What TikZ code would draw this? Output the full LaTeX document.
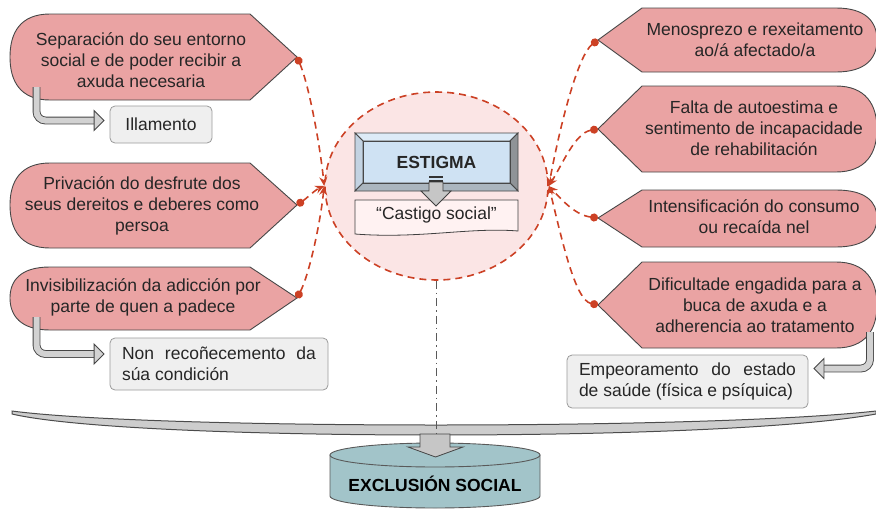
\documentclass[tikz,border=0pt]{standalone}
\usepackage{fontspec}
\setmainfont{Liberation Sans}
\usetikzlibrary{arrows.meta, shapes.geometric}

\definecolor{badgepink}{HTML}{EAA3A3}
\definecolor{edgegrey}{HTML}{474747}
\definecolor{linkred}{HTML}{CC4125}
\definecolor{haze}{HTML}{FBE5E5}
\definecolor{boxgrey}{HTML}{EFEFEF}
\definecolor{boxline}{HTML}{9A9A9A}
\definecolor{stigblue}{HTML}{CFE2F3}
\definecolor{cylteal}{HTML}{A2C4C9}
\definecolor{barfill}{HTML}{CDCDCD}

\begin{document}
\begin{tikzpicture}[x=1pt, y=-1pt, font=\fontsize{17.5}{21}\selectfont,
    badge/.style = {draw=edgegrey, fill=badgepink, line width=0.9pt},
    badgetext/.style = {align=center, inner sep=0pt, text=black!85},
    greybox/.style = {draw=boxline, fill=boxgrey, rounded corners=5pt, line width=0.8pt, text=black!85},
    link/.style = {draw=linkred, line width=1.6pt, dash pattern=on 7pt off 5pt,
                   {Circle[length=8pt]}-{Stealth[length=9pt, width=8pt]}},
    fatarrow/.style = {draw=gray!55!black, double=gray!35, double distance=6pt, line width=0.9pt,
                       rounded corners=9pt, -{Triangle[length=11pt, width=22pt, fill=gray!35]}, shorten >=5pt},
    bevel/.style = {draw=edgegrey, line width=0.8pt},
    cyl/.style = {draw=gray!70!black, fill=cylteal, line width=0.9pt}]
    \useasboundingbox (0,0) rectangle (876,509);

    % left side
    \draw[badge] (250,14) -- (297,57) -- (250,100) -- (50,100) .. controls (20,100) and (10,81) .. (10,57)
        .. controls (10,33) and (20,14) .. (50,14) -- cycle;
    \draw[badge] (250,163) -- (297,205) -- (250,248) -- (50,248) .. controls (20,248) and (10,229) .. (10,205)
        .. controls (10,182) and (20,163) .. (50,163) -- cycle;
    \draw[badge] (250,267) -- (297,298) -- (250,330) -- (50,330) .. controls (20,330) and (10,315) .. (10,298)
        .. controls (10,281) and (20,267) .. (50,267) -- cycle;
    \node[badgetext] (sep)   at (141,60)  {Separación do seu entorno\\social e de poder recibir a\\axuda necesaria};
    \node[badgetext] (priv)  at (142,206) {Privación do desfrute dos\\seus dereitos e deberes como\\persoa};
    \node[badgetext] (invis) at (143,297) {Invisibilización da adicción por\\parte de quen a padece};
    \coordinate (sep-tip)   at (297,57);
    \coordinate (priv-tip)  at (297,205);
    \coordinate (invis-tip) at (297,298);

    % right side
    \draw[badge] (642,8) -- (598,40) -- (642,72) -- (836,72) .. controls (866,72) and (877,58) .. (877,40)
        .. controls (877,22) and (866,8) .. (836,8) -- cycle;
    \draw[badge] (642,86) -- (598,129) -- (642,172) -- (836,172) .. controls (866,172) and (877,153) .. (877,129)
        .. controls (877,105) and (866,86) .. (836,86) -- cycle;
    \draw[badge] (642,190) -- (598,218) -- (642,247) -- (836,247) .. controls (866,247) and (877,234) .. (877,218)
        .. controls (877,202) and (866,190) .. (836,190) -- cycle;
    \draw[badge] (642,262) -- (598,305) -- (642,348) -- (836,348) .. controls (866,348) and (877,329) .. (877,305)
        .. controls (877,281) and (866,262) .. (836,262) -- cycle;
    \node[badgetext] (menos) at (755,40)  {Menosprezo e rexeitamento\\ao/á afectado/a};
    \node[badgetext] (falta) at (754,128) {Falta de autoestima e\\sentimento de incapacidade\\de rehabilitación};
    \node[badgetext] (inten) at (754,217) {Intensificación do consumo\\ou recaída nel};
    \node[badgetext] (dific) at (755,305) {Dificultade engadida para a\\buca de axuda e a\\adherencia ao tratamento};
    \coordinate (menos-tip) at (598,40);
    \coordinate (falta-tip) at (598,129);
    \coordinate (inten-tip) at (598,218);
    \coordinate (dific-tip) at (598,305);

    % outcome boxes
    \node[greybox, minimum width=102pt, minimum height=37pt] (ill) at (161,124.5) {Illamento};
    \node[greybox, text width=194pt, inner xsep=12pt, minimum height=52pt, align=justify] (nonrec) at (219,364)
        {Non recoñecemento da súa condición};
    \node[greybox, text width=217pt, inner xsep=12pt, minimum height=53pt, align=justify] (emp) at (687.5,381.5)
        {Empeoramento do estado de saúde (física e psíquica)};
    \coordinate (sep-foot)   at (36.5,87);
    \coordinate (invis-foot) at (36.5,317);
    \coordinate (dific-foot) at (870,332);
    \draw[fatarrow] (sep-foot) |- ([yshift=4pt]ill.west);
    \draw[fatarrow] (invis-foot) |- ([yshift=10pt]nonrec.west);
    \draw[fatarrow] (dific-foot) |- ([yshift=13pt]emp.east);

    % centre
    \node[draw=linkred, fill=haze, ellipse, dash pattern=on 7pt off 5pt, line width=1.6pt,
          minimum width=223pt, minimum height=188pt, inner sep=0pt] (circ) at (436.5,186) {};
    \fill[stigblue] (363,141) rectangle (510,183);
    \filldraw[bevel, fill=stigblue!70!white] (355,133) -- (518,133) -- (510,141) -- (363,141) -- cycle;
    \filldraw[bevel, fill=stigblue!85!gray] (355,133) -- (363,141) -- (363,183) -- (355,191) -- cycle;
    \filldraw[bevel, fill=gray!80!stigblue] (518,133) -- (518,191) -- (510,183) -- (510,141) -- cycle;
    \filldraw[bevel, fill=gray!45!stigblue] (355,191) -- (518,191) -- (510,183) -- (363,183) -- cycle;
    \draw[bevel] (363,141) rectangle (510,183);
    \node[badgetext] (estigma) at (436.5,162) {\bfseries ESTIGMA};
    \filldraw[draw=gray!50!black, fill=white!95!red, line width=0.8pt] (355,200) -- (518,200) -- (518,231)
        .. controls (470,227) and (420,239) .. (355,234) -- cycle;
    \node[badgetext] (castigo) at (436.5,215) {“Castigo social”};
    \filldraw[draw=gray!50!black, fill=gray!45, line width=0.8pt] (429,182) -- (443,182) -- (443,191) -- (451,191)
        -- (436,206) -- (421,191) -- (429,191) -- cycle;
    \fill[black!80] (429,176) rectangle (443,178);
    \fill[black!80] (429,179.5) rectangle (443,181.5);

    % links
    \draw[link] (sep-tip) .. controls (309,85) and (320,145) .. (circ.west);
    \draw[link] (priv-tip) .. controls (307,198) and (315,190) .. (circ.west);
    \draw[link] (invis-tip) .. controls (309,275) and (320,225) .. (circ.west);
    \draw[link] (menos-tip) .. controls (578,55) and (560,125) .. (circ.east);
    \draw[link] (falta-tip) .. controls (575,133) and (562,165) .. (circ.east);
    \draw[link] (inten-tip) .. controls (575,215) and (562,200) .. (circ.east);
    \draw[link] (dific-tip) .. controls (575,300) and (562,240) .. (circ.east);

    % bottom
    \draw[draw=gray!60!black, fill=barfill, line width=1pt] (12,411) .. controls (80,420) and (250,425) .. (436,425)
        .. controls (622,425) and (796,420) .. (876,411) -- (876,414) .. controls (800,428) and (622,435) .. (436,435)
        .. controls (250,435) and (72,428) .. (12,414) -- cycle;
    \coordinate (barmid) at (436.5,434);
    \draw[gray!70!black, line width=1.4pt, dash pattern=on 8pt off 4pt on 1.5pt off 4pt] (circ.south) -- (barmid);
    \draw[cyl] (330,455) -- (330,496) .. controls (330,502.6) and (377,508) .. (435,508)
        .. controls (493,508) and (540,502.6) .. (540,496) -- (540,455) -- cycle;
    \draw[cyl] (435,455) ellipse [x radius=105, y radius=12];
    \filldraw[draw=gray!55!black, fill=gray!45, line width=0.8pt] (420,434) -- (450,434) -- (450,447) -- (463,447)
        -- (435.5,457) -- (408,447) -- (420,447) -- cycle;
    \node[badgetext, text=black] (excl) at (435,484) {\bfseries EXCLUSIÓN SOCIAL};
\end{tikzpicture}
\end{document}
